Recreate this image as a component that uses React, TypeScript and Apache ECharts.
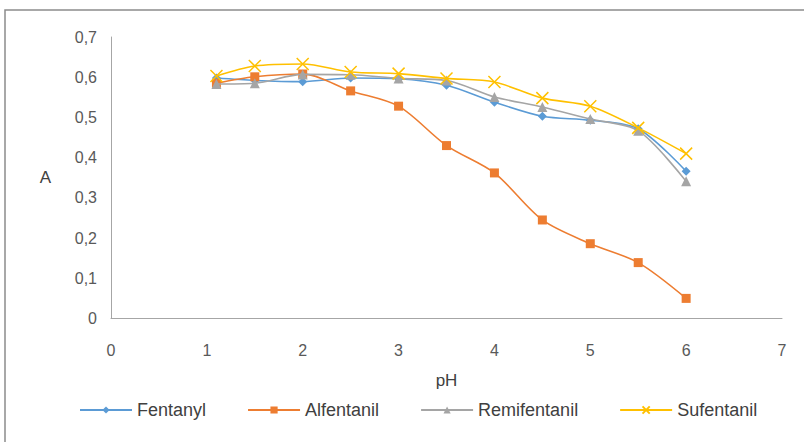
import React, { useEffect, useRef } from "react";
import * as echarts from "echarts";

const phValues = [1.1, 1.5, 2, 2.5, 3, 3.5, 4, 4.5, 5, 5.5, 6];
const fentanyl = [0.598, 0.592, 0.589, 0.598, 0.596, 0.58, 0.538, 0.503, 0.493, 0.472, 0.366];
const alfentanil = [0.585, 0.601, 0.608, 0.566, 0.528, 0.43, 0.362, 0.245, 0.186, 0.139, 0.05];
const remifentanil = [0.583, 0.585, 0.607, 0.606, 0.597, 0.592, 0.551, 0.526, 0.496, 0.467, 0.341];
const sufentanil = [0.603, 0.628, 0.633, 0.613, 0.609, 0.597, 0.588, 0.548, 0.528, 0.474, 0.41];
const seriesNames = ["Fentanyl", "Alfentanil", "Remifentanil", "Sufentanil"];
const colors = ["#5B9BD5", "#ED7D31", "#A5A5A5", "#FFC000"];

const pair = (ys: number[]) => phValues.map((x, i) => [x, ys[i]]);

export default function App() {
  const ref = useRef<HTMLDivElement>(null);
  useEffect(() => {
    if (!ref.current) return;
    const chart = echarts.init(ref.current, undefined, { renderer: "svg" });
    const font = "'Liberation Sans', Arial, sans-serif";
    const dataSets = [fentanyl, alfentanil, remifentanil, sufentanil];
    const symbols = ["diamond", "rect", "triangle", "path://M0,0L10,10M10,0L0,10"];
    const sizes = [9, 9, 10, 12];
    chart.setOption({
      animation: false,
      textStyle: { fontFamily: font },
      grid: { left: 111, right: 22, top: 37, bottom: 123.5 },
      graphic: [
        {
          type: "rect",
          shape: { x: 5, y: 10, width: 830, height: 470 },
          style: { fill: "none", stroke: "#8c8c8c", lineWidth: 1.5 },
          silent: true,
        },
      ],
      xAxis: {
        type: "value",
        min: 0,
        max: 7,
        interval: 1,
        name: "pH",
        nameLocation: "middle",
        nameGap: 53,
        nameTextStyle: { fontSize: 17, color: "#404040", fontFamily: font },
        axisLine: { show: true, lineStyle: { color: "#a6a6a6", width: 1 } },
        axisTick: { show: false },
        splitLine: { show: false },
        axisLabel: { fontSize: 16, color: "#595959", margin: 24, fontFamily: font },
      },
      yAxis: {
        type: "value",
        min: 0,
        max: 0.7,
        interval: 0.1,
        name: "A",
        nameLocation: "middle",
        nameRotate: 0,
        nameGap: 60,
        nameTextStyle: { fontSize: 17, color: "#404040", fontFamily: font },
        axisLine: { show: true, lineStyle: { color: "#a6a6a6", width: 1 } },
        axisTick: { show: false },
        splitLine: { show: false },
        axisLabel: {
          fontSize: 16,
          color: "#595959",
          margin: 14,
          fontFamily: font,
          formatter: (v: number) => (v === 0 ? "0" : v.toFixed(1).replace(".", ",")),
        },
      },
      legend: {
        bottom: 18,
        left: 74,
        itemWidth: 52,
        itemHeight: 9,
        itemGap: 41,
        textStyle: { fontSize: 18, color: "#404040", fontFamily: font },
        data: seriesNames,
      },
      series: seriesNames.map((name, i) => ({
        name,
        type: "line",
        smooth: 0.3,
        data: pair(dataSets[i]),
        symbol: symbols[i],
        symbolSize: sizes[i],
        lineStyle: { color: colors[i], width: 1.6 },
        itemStyle:
          i === 3
            ? { color: colors[i], borderColor: colors[i], borderWidth: 1.5 }
            : { color: colors[i], borderWidth: 0 },
        z: 2 + i,
      })),
    });
    return () => chart.dispose();
  }, []);
  return (
    <div
      ref={ref}
      style={{ position: "fixed", left: 0, top: 0, width: 804, height: 442, background: "#fff" }}
    />
  );
}
